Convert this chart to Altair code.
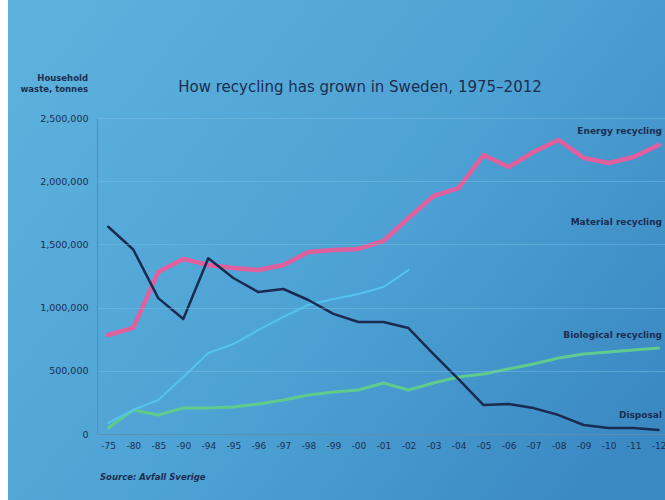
import altair as alt
import pandas as pd

years = ["-75", "-80", "-85", "-90", "-94", "-95", "-96", "-97", "-98", "-99", "-00",
         "-01", "-02", "-03", "-04", "-05", "-06", "-07", "-08", "-09", "-10", "-11", "-12"]
energy = [783000, 839000, 1282000, 1385000, 1337000, 1313000, 1297000, 1337000, 1440000,
          1456000, 1464000, 1527000, 1709000, 1883000, 1946000, 2207000, 2112000, 2231000,
          2326000, 2184000, 2144000, 2191000, 2286000]
material = [87000, 190000, 269000, 451000, 641000, 712000, 823000, 926000, 1021000,
            1068000, 1108000, 1163000, 1297000]
biological = [47000, 190000, 150000, 206000, 206000, 214000, 237000, 269000, 309000,
              332000, 348000, 403000, 348000, 403000, 451000, 475000, 514000, 554000,
              601000, 633000, 649000, 665000, 680000]
disposal = [1640000, 1460000, 1075000, 910000, 1390000, 1234000, 1123000, 1147000, 1060000,
            950000, 886000, 886000, 838000, 632000, 435000, 229000, 237000, 205000, 150000,
            71000, 47000, 47000, 32000]
y_ticks = [0, 500000, 1000000, 1500000, 2000000, 2500000]

rows = []
for name, vals in [("Biological recycling", biological), ("Material recycling", material),
                   ("Energy recycling", energy), ("Disposal", disposal)]:
    for yr, v in zip(years, vals):
        rows.append({"year": yr, "value": v, "series": name})
df = pd.DataFrame(rows)

TXT = "#1c2d50"
FONT = "DejaVu Sans"

x_enc = alt.X("year:O", sort=years,
              scale=alt.Scale(type="point", domain=years, padding=0.35, align=0.64),
              axis=alt.Axis(title=None, labelAngle=0, ticks=False, labelPadding=7,
                            labelFontSize=9, labelColor=TXT, labelFont=FONT,
                            domainColor="#5c8fb6", domainWidth=1.2, grid=False,
                            zindex=1))
y_enc = alt.Y("value:Q", scale=alt.Scale(domain=[0, 2500000], nice=False),
              axis=alt.Axis(title=None, values=y_ticks, format=",d", ticks=False,
                            labelPadding=9, labelFontSize=9.5, labelColor=TXT,
                            labelFont=FONT, domainColor="#5c8fb6", domainWidth=1.2,
                            grid=True, gridColor="#7cc0e6", gridOpacity=0.45,
                            gridWidth=1, zindex=1))

styles = {
    "Biological recycling": ("#5fcb8c", 3),
    "Material recycling": ("#55c3f0", 2),
    "Energy recycling": ("#e0609e", 4.5),
    "Disposal": ("#1b2b4f", 2.5),
}

one = alt.Data(values=[{}])

bg = alt.Chart(one).mark_rect(
    fill=alt.Gradient(gradient="linear",
                      stops=[alt.GradientStop(offset=0, color="#5cb0dc"),
                             alt.GradientStop(offset=0.5, color="#4ea3d5"),
                             alt.GradientStop(offset=1, color="#3b89c3")],
                      x1=0, y1=0.2, x2=1, y2=0.8)
).encode(x=alt.value(-89), x2=alt.value(568), y=alt.value(-118), y2=alt.value(382))

layers = [bg]
for name, (col, w) in styles.items():
    layers.append(
        alt.Chart(df).transform_filter(alt.datum.series == name)
        .mark_line(color=col, strokeWidth=w, strokeJoin="round", strokeCap="round")
        .encode(x=x_enc, y=y_enc)
    )

def label(txt, x, y, align="left", size=9.5, weight="normal", style="normal", color=TXT, baseline="middle"):
    return alt.Chart(one).mark_text(
        text=txt, align=align, baseline=baseline, fontSize=size, fontWeight=weight,
        fontStyle=style, font=FONT, color=color
    ).encode(x=alt.value(x), y=alt.value(y))

layers += [
    label("How recycling has grown in Sweden, 1975\u20132012", 263, -31, align="center", size=15),
    label(["Household", "waste, tonnes"], -9, -40, align="right", size=8.5, weight="bold"),
    label("Energy recycling", 565, 13, align="right", size=9, weight="bold"),
    label("Material recycling", 565, 104, align="right", size=9, weight="bold"),
    label("Biological recycling", 565, 217, align="right", size=9, weight="bold"),
    label("Disposal", 565, 297, align="right", size=9, weight="bold"),
    label("Source: Avfall Sverige", 3, 359, align="left", size=8.5, weight="bold", style="italic"),
]

chart = alt.layer(*layers).properties(
    width=568, height=316,
    autosize=alt.AutoSizeParams(type="none"),
    padding={"left": 97, "top": 118, "right": 0, "bottom": 66},
    background="white",
).configure_view(stroke=None)

chart.save("out.html", embed_options={"renderer": "svg", "actions": False})
